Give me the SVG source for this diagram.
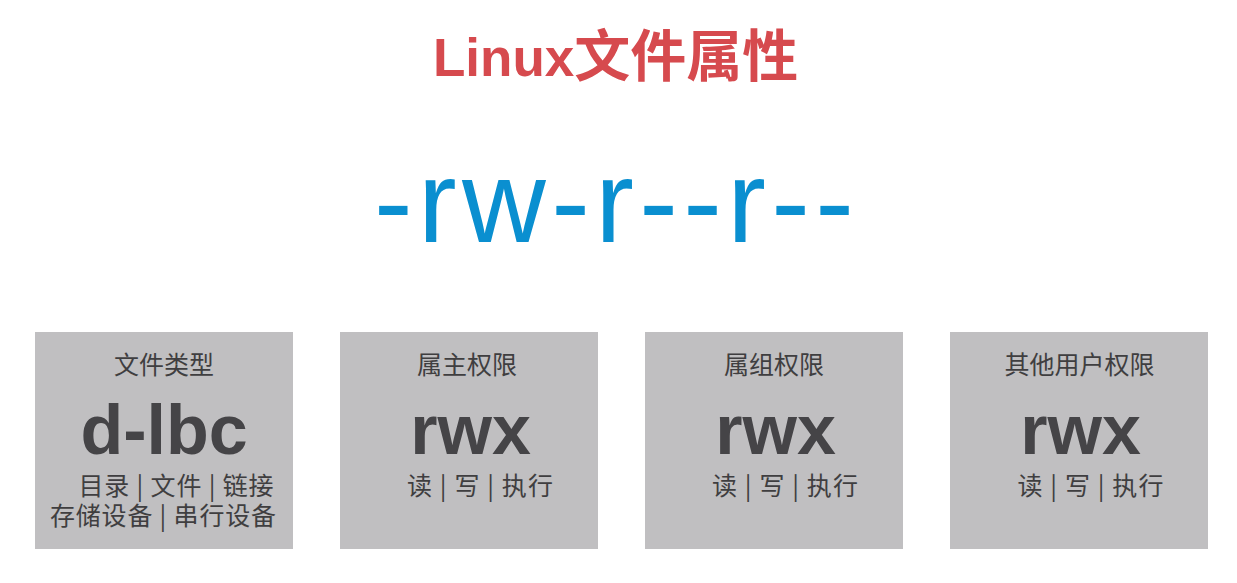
<svg xmlns="http://www.w3.org/2000/svg" width="1237" height="583" viewBox="0 0 1237 583">
<style>
.bg{fill:#ffffff}
.box{fill:#c0bfc1}
.title{font-family:"Liberation Sans","Noto Sans CJK SC",sans-serif;font-weight:bold;fill:#d64a4e}
.perm{font-family:"Liberation Sans","Noto Sans CJK SC",sans-serif;font-size:116px;fill:#0a8fd0}
.head{font-family:"Noto Sans CJK SC",sans-serif;font-size:25px;fill:#3f3e40;text-anchor:middle}
.big{font-family:"Liberation Sans","Noto Sans CJK SC",sans-serif;font-size:70px;font-weight:bold;fill:#454447;text-anchor:middle}
.sub{font-family:"Noto Sans CJK SC",sans-serif;font-size:25px;fill:#3f3e40;text-anchor:middle}
</style>
<rect class="bg" x="0" y="0" width="1237" height="583"/>
<g id="title">
<text class="title" x="433" y="76"><tspan font-size="53">Linux</tspan><tspan font-size="56" font-family="Noto Sans CJK SC, sans-serif">文件属性</tspan></text>
</g>
<g id="permission-string">
<text class="perm" x="374" y="242" textLength="480" lengthAdjust="spacing">-rw-r--r--</text>
</g>
<g id="file-type">
<rect class="box" x="35" y="332" width="258" height="217"/>
<text class="head" x="164" y="374">文件类型</text>
<text class="big" x="164" y="454">d-lbc</text>
<text class="sub" x="176" y="495" textLength="195" lengthAdjust="spacing">目录 | 文件 | 链接</text>
<text class="sub" x="163" y="525" textLength="226" lengthAdjust="spacing">存储设备 | 串行设备</text>
</g>
<g id="owner">
<rect class="box" x="340" y="332" width="258" height="217"/>
<text class="head" x="467" y="374">属主权限</text>
<text class="big" x="470.5" y="454">rwx</text>
<text class="sub" x="480" y="495" textLength="146" lengthAdjust="spacing">读 | 写 | 执行</text>
</g>
<g id="group">
<rect class="box" x="645" y="332" width="258" height="217"/>
<text class="head" x="774" y="374">属组权限</text>
<text class="big" x="775.5" y="454">rwx</text>
<text class="sub" x="785" y="495" textLength="146" lengthAdjust="spacing">读 | 写 | 执行</text>
</g>
<g id="others">
<rect class="box" x="950" y="332" width="258" height="217"/>
<text class="head" x="1079.5" y="374">其他用户权限</text>
<text class="big" x="1080.5" y="454">rwx</text>
<text class="sub" x="1090.5" y="495" textLength="146" lengthAdjust="spacing">读 | 写 | 执行</text>
</g>
<g id="connectors"></g>
</svg>
